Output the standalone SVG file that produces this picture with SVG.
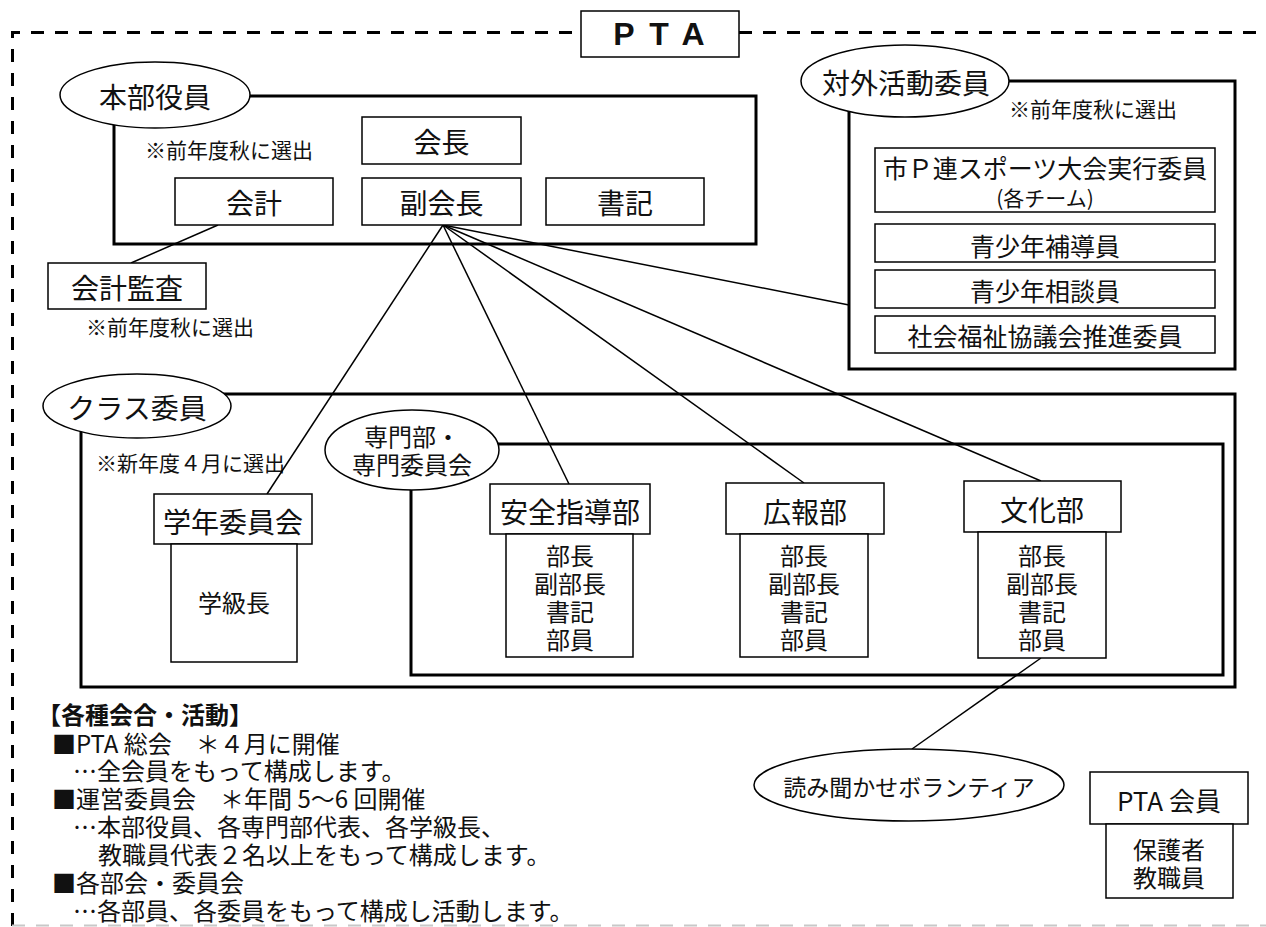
<svg xmlns="http://www.w3.org/2000/svg" width="1266" height="927" viewBox="0 0 1266 927">
<style>
text{font-family:"Noto Sans CJK JP","Noto Sans",sans-serif;fill:#111;dominant-baseline:central;text-anchor:middle}
.t28{font-size:28px}.t25{font-size:25px}.t24{font-size:24px}.t21{font-size:21px}
.l{text-anchor:start}
.frame{fill:none;stroke:#000;stroke-width:3}
.box{fill:#fff;stroke:#000;stroke-width:1.5}
.ell{fill:#fff;stroke:#000;stroke-width:1.5}
.dash{fill:none;stroke:#000;stroke-width:3;stroke-dasharray:13 11}
#connectors line{stroke:#000;stroke-width:1.5}
</style>
<rect width="1266" height="927" fill="#fff"/>
<g id="outer">
<path class="dash" d="M12.5,926 V32.5 H581"/>
<path class="dash" d="M739,32.5 H1266"/>
<path d="M12,925.5 H1266" fill="none" stroke="#c8c8c8" stroke-width="2" stroke-dasharray="13 11"/>
</g>
<g id="pta-title">
<rect class="box" x="581" y="11" width="158" height="46"/>
<text x="624 659 693" y="34" style="font-family:'Liberation Sans',Arial,sans-serif;font-size:32px;font-weight:bold">PTA</text>
</g>
<g id="honbu">
<rect class="frame" x="114" y="96" width="642" height="148"/>
<ellipse class="ell" cx="155" cy="95" rx="95" ry="33"/>
<text class="t28" x="155" y="96">本部役員</text>
<text class="t21 l" x="145" y="149">※前年度秋に選出</text>
</g>
<g id="taigai">
<rect class="frame" x="849" y="81" width="386" height="288"/>
<ellipse class="ell" cx="905" cy="81" rx="104" ry="36"/>
<text class="t28" x="906" y="82">対外活動委員</text>
<text class="t21 l" x="1009" y="108">※前年度秋に選出</text>
</g>
<g id="class">
<rect class="frame" x="81" y="394" width="1154" height="293"/>
<ellipse class="ell" cx="137" cy="406" rx="94" ry="32"/>
<text class="t28" x="137" y="407">クラス委員</text>
<text class="t21 l" x="96" y="462">※新年度４月に選出</text>
</g>
<g id="senmon">
<rect class="frame" x="411" y="444" width="812" height="231"/>
<ellipse class="ell" cx="412" cy="450" rx="87" ry="40"/>
<text class="t24" x="412" y="435">専門部・</text>
<text class="t24" x="412" y="463">専門委員会</text>
</g>
<g id="connectors">
<line x1="218" y1="225" x2="131" y2="263"/>
<line x1="443" y1="225" x2="267" y2="494"/>
<line x1="443" y1="225" x2="569" y2="484"/>
<line x1="443" y1="225" x2="804" y2="483"/>
<line x1="443" y1="225" x2="1041" y2="481"/>
<line x1="443" y1="225" x2="849" y2="305"/>
<line x1="1041" y1="658" x2="912" y2="749"/>
</g>
<g id="kaicho">
<rect class="box" x="362" y="117" width="159" height="47"/>
<text class="t28" x="441.5" y="141">会長</text>
</g>
<g id="kaikei">
<rect class="box" x="175" y="178" width="158" height="47"/>
<text class="t28" x="254" y="202">会計</text>
</g>
<g id="fukukaicho">
<rect class="box" x="362" y="178" width="159" height="47"/>
<text class="t28" x="441.5" y="202">副会長</text>
</g>
<g id="shoki">
<rect class="box" x="546" y="178" width="158" height="47"/>
<text class="t28" x="625" y="202">書記</text>
</g>
<g id="kansa">
<rect class="box" x="48" y="263" width="158" height="46"/>
<text class="t28" x="127" y="287">会計監査</text>
<text class="t21 l" x="86" y="326">※前年度秋に選出</text>
</g>
<g id="sports">
<rect class="box" x="875" y="148" width="340" height="64"/>
<text class="t25" x="1045" y="167">市Ｐ連スポーツ大会実行委員</text>
<text class="t21" x="1045" y="197">(各チーム)</text>
</g>
<g id="hodo">
<rect class="box" x="875" y="224" width="340" height="38"/>
<text class="t25" x="1045" y="245">青少年補導員</text>
</g>
<g id="sodan">
<rect class="box" x="875" y="270" width="340" height="38"/>
<text class="t25" x="1045" y="290">青少年相談員</text>
</g>
<g id="fukushi">
<rect class="box" x="875" y="316" width="340" height="37"/>
<text class="t25" x="1045" y="335">社会福祉協議会推進委員</text>
</g>
<g id="gakunen">
<rect class="box" x="154" y="494" width="158" height="50"/>
<rect class="box" x="171" y="544" width="126" height="118"/>
<text class="t28" x="233" y="521">学年委員会</text>
<text class="t24" x="234" y="601">学級長</text>
</g>
<g id="anzen">
<rect class="box" x="490" y="484" width="160" height="50"/>
<rect class="box" x="506" y="534" width="127" height="123"/>
<text class="t28" x="570" y="511">安全指導部</text>
<text class="t24" x="570" y="554">部長</text>
<text class="t24" x="570" y="582">副部長</text>
<text class="t24" x="570" y="610">書記</text>
<text class="t24" x="570" y="638">部員</text>
</g>
<g id="koho">
<rect class="box" x="726" y="483" width="158" height="51"/>
<rect class="box" x="740" y="534" width="128" height="123"/>
<text class="t28" x="805" y="511">広報部</text>
<text class="t24" x="804" y="554">部長</text>
<text class="t24" x="804" y="582">副部長</text>
<text class="t24" x="804" y="610">書記</text>
<text class="t24" x="804" y="638">部員</text>
</g>
<g id="bunka">
<rect class="box" x="964" y="481" width="157" height="51"/>
<rect class="box" x="978" y="532" width="128" height="126"/>
<text class="t28" x="1042" y="509">文化部</text>
<text class="t24" x="1042" y="554">部長</text>
<text class="t24" x="1042" y="582">副部長</text>
<text class="t24" x="1042" y="610">書記</text>
<text class="t24" x="1042" y="638">部員</text>
</g>
<g id="yomikikase">
<ellipse class="ell" cx="909" cy="785" rx="155" ry="36"/>
<text class="t24" x="909" y="786" style="font-size:23px">読み聞かせボランティア</text>
</g>
<g id="ptakaiin">
<rect class="box" x="1090" y="772" width="158" height="52"/>
<rect class="box" x="1106" y="824" width="127" height="74"/>
<text x="1169" y="799" style="font-size:26px">PTA 会員</text>
<text class="t24" x="1169" y="848">保護者</text>
<text class="t24" x="1169" y="876">教職員</text>
</g>
<g id="notes">
<text class="t24 l" x="37" y="713" style="font-weight:bold">【各種会合・活動】</text>
<text class="t24 l" x="52" y="742">■PTA 総会　＊４月に開催</text>
<text class="t24 l" x="73" y="769">…全会員をもって構成します。</text>
<text class="t24 l" x="52" y="797">■運営委員会　＊年間 5〜6 回開催</text>
<text class="t24 l" x="73" y="825">…本部役員、各専門部代表、各学級長、</text>
<text class="t24 l" x="98" y="853">教職員代表２名以上をもって構成します。</text>
<text class="t24 l" x="52" y="881">■各部会・委員会</text>
<text class="t24 l" x="73" y="909">…各部員、各委員をもって構成し活動します。</text>
</g>
</svg>
